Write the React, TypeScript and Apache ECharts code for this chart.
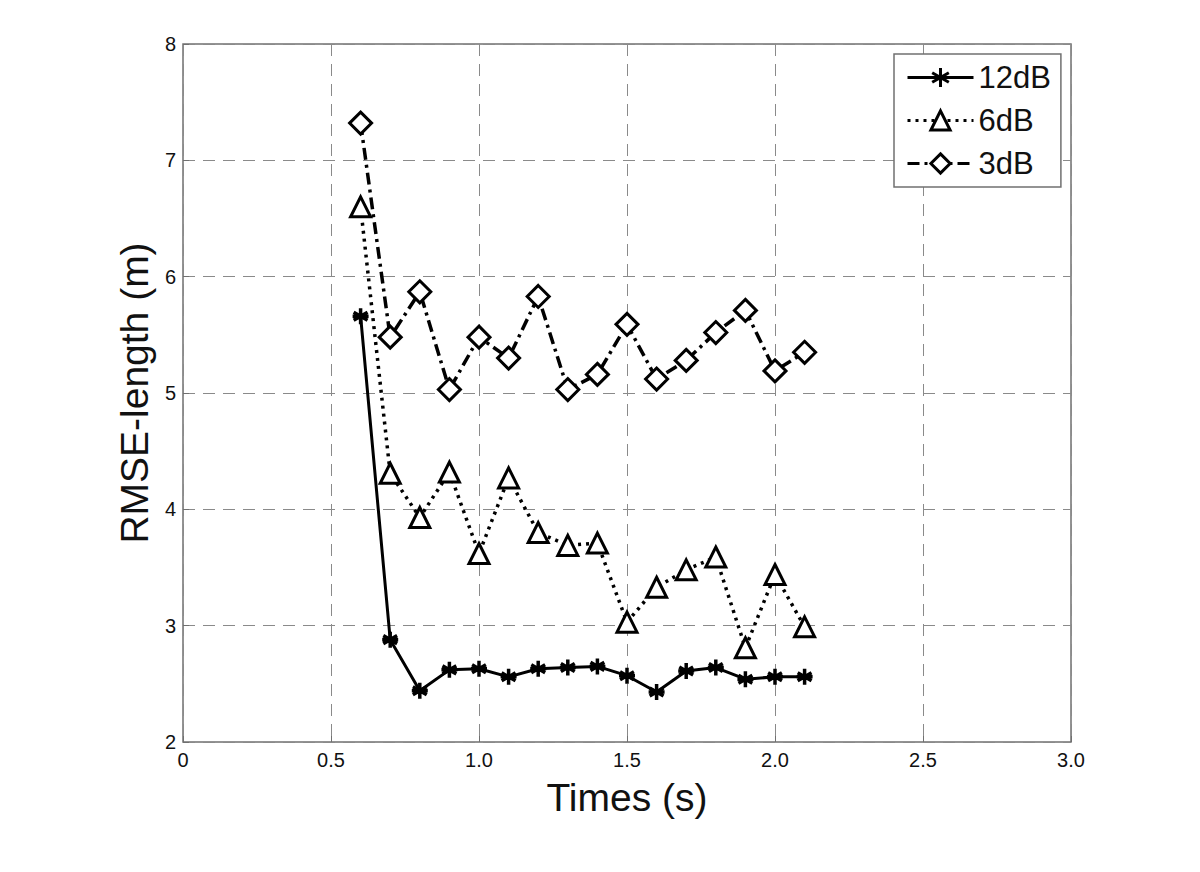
import React, { useEffect, useRef } from "react";
import * as echarts from "echarts";

const times = [0.6, 0.7, 0.8, 0.9, 1.0, 1.1, 1.2, 1.3, 1.4, 1.5, 1.6, 1.7, 1.8, 1.9, 2.0, 2.1];
const db12 = [5.66, 2.88, 2.44, 2.62, 2.63, 2.56, 2.63, 2.64, 2.65, 2.57, 2.43, 2.61, 2.64, 2.54, 2.56, 2.56];
const db6 = [6.6, 4.31, 3.93, 4.32, 3.62, 4.27, 3.8, 3.69, 3.71, 3.03, 3.33, 3.48, 3.59, 2.81, 3.44, 2.99];
const db3 = [7.32, 5.48, 5.87, 5.03, 5.48, 5.3, 5.83, 5.03, 5.16, 5.59, 5.12, 5.28, 5.52, 5.71, 5.19, 5.35];
const seriesNames = ["12dB", "6dB", "3dB"];

const asterisk = "path://M0,-10L0,10M-8.66,-5L8.66,5M-8.66,5L8.66,-5M-10,0L10,0";

export default function App() {
  const ref = useRef<HTMLDivElement>(null);
  useEffect(() => {
    const chart = echarts.init(ref.current!, null, { renderer: "svg" });
    const pair = (ys: number[]) => times.map((t, i) => [t, ys[i]]);
    const font = "Arial, 'Liberation Sans', sans-serif";
    chart.setOption({
      animation: false,
      backgroundColor: "#fff",
      grid: { left: 183, right: 129, top: 44, bottom: 130, show: true, borderColor: "#707070", borderWidth: 1.5 },
      xAxis: {
        type: "value",
        min: 0,
        max: 3,
        interval: 0.5,
        name: "Times (s)",
        nameLocation: "middle",
        nameGap: 36,
        nameTextStyle: { fontSize: 39, color: "#111", fontFamily: font },
        axisLine: { show: false },
        axisTick: { show: true, inside: true, length: 6, lineStyle: { color: "#707070" } },
        axisLabel: { fontSize: 20, color: "#111", fontFamily: font, margin: 8, formatter: (v: number) => (v === 0 ? "0" : v.toFixed(1)) },
        splitLine: { show: true, lineStyle: { color: "#8a8a8a", type: [12, 8], width: 1 } },
      },
      yAxis: {
        type: "value",
        min: 2,
        max: 8,
        interval: 1,
        name: "RMSE-length (m)",
        nameLocation: "middle",
        nameGap: 28,
        nameTextStyle: { fontSize: 39, color: "#111", fontFamily: font },
        axisLine: { show: false },
        axisTick: { show: true, inside: true, length: 6, lineStyle: { color: "#707070" } },
        axisLabel: { fontSize: 20, color: "#111", fontFamily: font, margin: 7 },
        splitLine: { show: true, lineStyle: { color: "#8a8a8a", type: [12, 8], width: 1 } },
      },
      legend: {
        orient: "vertical",
        left: 894,
        top: 54,
        width: 168,
        padding: [8, 10, 8, 12],
        itemGap: 12,
        itemWidth: 66,
        itemHeight: 24,
        backgroundColor: "#fff",
        borderColor: "#707070",
        borderWidth: 1.5,
        lineStyle: { width: 3 },
        itemStyle: { borderWidth: 3 },
        textStyle: { fontSize: 31, color: "#111", fontFamily: font },
        data: seriesNames,
      },
      series: [
        {
          name: seriesNames[0],
          type: "line",
          data: pair(db12),
          symbol: asterisk,
          symbolSize: 16,
          lineStyle: { color: "#000", width: 3, type: "solid" },
          itemStyle: { color: "#000", borderColor: "#000", borderWidth: 3.5 },
          z: 3,
        },
        {
          name: seriesNames[1],
          type: "line",
          data: pair(db6),
          symbol: "triangle",
          symbolSize: 20,
          lineStyle: { color: "#000", width: 3.5, type: [3, 5] },
          itemStyle: { color: "#fff", borderColor: "#000", borderWidth: 3 },
          z: 2,
        },
        {
          name: seriesNames[2],
          type: "line",
          data: pair(db3),
          symbol: "diamond",
          symbolSize: 22,
          lineStyle: { color: "#000", width: 3.5, type: [12, 5, 3, 5] },
          itemStyle: { color: "#fff", borderColor: "#000", borderWidth: 3 },
          z: 2,
        },
      ],
    });
    return () => chart.dispose();
  }, []);
  return <div ref={ref} style={{ width: 1200, height: 872, position: "absolute", left: 0, top: 0 }} />;
}
